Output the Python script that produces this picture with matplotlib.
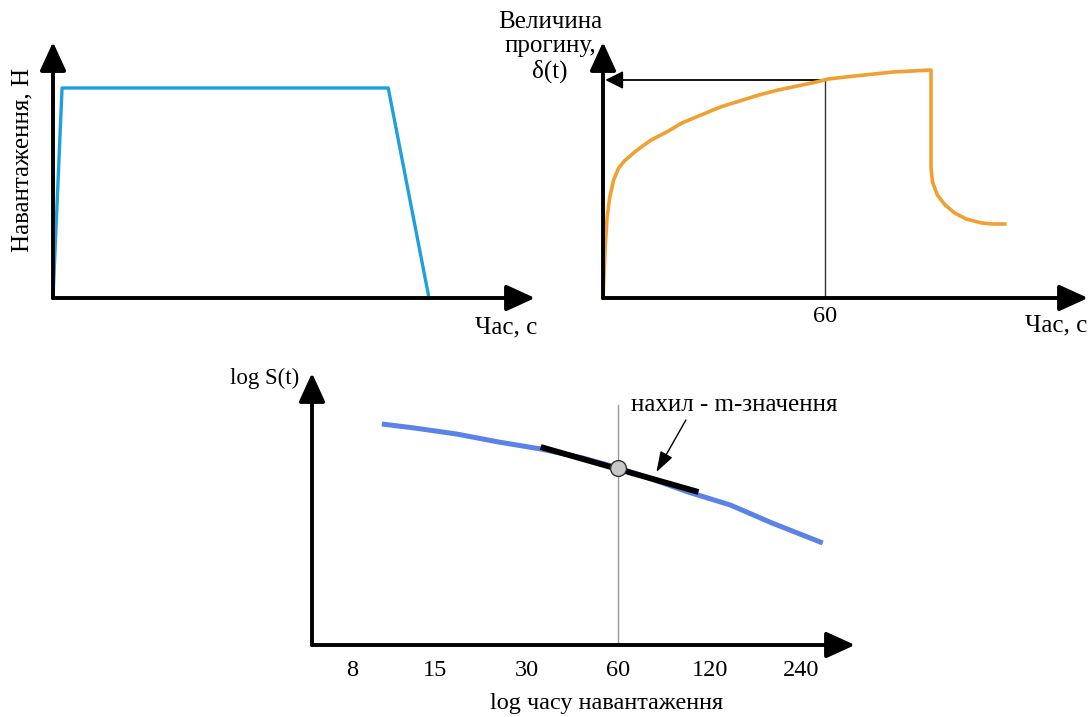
import numpy as np
import matplotlib
matplotlib.use("Agg")
import matplotlib.pyplot as plt

plt.rcParams["font.family"] = ["Liberation Serif", "DejaVu Serif"]

W, H = 1092, 717

# --- panel 1: load history ---
load_t = [0, 2, 74, 83]
load_val = [0, 1.0, 1.0, 0]

# --- panel 2: deflection vs time ---
defl_t = [0, 0.38, 0.59, 1.11, 1.84, 2.86, 4.22, 5.78, 8.89, 13.0, 17.2,
          21.3, 26.5, 31.7, 36.9, 42.1, 47.3, 52.5, 57.6, 60.8, 68.0, 73.2,
          78.4, 83.6, 88.6,
          88.6, 89.0, 90.3, 92.4, 95.0, 98.1, 102.3, 105.4, 108.5]
defl_val = [0, 0.31, 0.51, 0.81, 1.01, 1.18, 1.30, 1.37, 1.47, 1.58, 1.66,
            1.75, 1.83, 1.91, 1.97, 2.03, 2.08, 2.12, 2.16, 2.19, 2.22, 2.24,
            2.26, 2.27, 2.28,
            1.30, 1.16, 1.03, 0.93, 0.85, 0.79, 0.75, 0.74, 0.74]
t_ref = 60
defl_ref = 2.18

# --- panel 3: log S(t) vs log time ---
s_t = [10.0, 12.8, 17.6, 24.2, 33.3, 45.8, 60.1, 73.9, 101.7, 140, 192, 282]
s_val = [2.21, 2.17, 2.11, 2.03, 1.96, 1.87, 1.77, 1.68, 1.53, 1.40, 1.22, 1.02]
tangent_t = [33.3, 110]
tangent_val = [1.98, 1.53]
point_t, point_val = 60, 1.77
tick_vals = [8, 15, 30, 60, 120, 240]
tick_labels = ["8", "15", "30", "60", "120", "240"]

FS = 18
BLUE1 = "#1ea0dc"
ORANGE = "#f0a030"
BLUE2 = "#5b82e6"

fig = plt.figure(figsize=(W / 100, H / 100), dpi=100)


def box(x0, y0, x1, y1):
    # pixel box (left, top, right, bottom) -> axes
    ax = fig.add_axes([x0 / W, 1 - y1 / H, (x1 - x0) / W, (y1 - y0) / H])
    ax.axis("off")
    return ax


def axis_arrows(ax, x0, y0, x1, y1):
    kw = dict(arrowstyle="-|>,head_length=0.7,head_width=0.32",
              mutation_scale=25, color="k", lw=2.8, shrinkA=0, shrinkB=0)
    ax.annotate("", xy=(x1, y0), xytext=(x0, y0), arrowprops=kw,
                annotation_clip=False)
    ax.annotate("", xy=(x0, y1), xytext=(x0, y0), arrowprops=kw,
                annotation_clip=False)


# panel 1
ax1 = box(53, 42, 535, 298)
ax1.set_xlim(0, 106.4)
ax1.set_ylim(0, 1.219)
ax1.plot(load_t, load_val, color=BLUE1, lw=2.4, clip_on=False, zorder=3)
axis_arrows(ax1, 0, 0, 106.4, 1.219)
ax1.text(-6.8, 0.657, "Навантаження, Н", rotation=90, ha="center",
         va="center", fontsize=FS)
ax1.text(100, -0.138, "Час, с", ha="center", va="center", fontsize=FS)

# panel 2
ax2 = box(603, 42, 1088, 298)
ax2.set_xlim(0, 131)
ax2.set_ylim(0, 2.56)
ax2.plot(defl_t, defl_val, color=ORANGE, lw=2.6, clip_on=False, zorder=3,
         solid_joinstyle="round")
ax2.plot([t_ref, t_ref], [0, defl_ref], color="#333333", lw=1.0, zorder=2)
ax2.annotate("", xy=(0.6, defl_ref), xytext=(t_ref, defl_ref),
             arrowprops=dict(arrowstyle="-|>,head_length=0.6,head_width=0.3",
                             mutation_scale=18, color="k", lw=1.3,
                             shrinkA=0, shrinkB=0), zorder=2)
axis_arrows(ax2, 0, 0, 131, 2.56)
ax2.text(t_ref, -0.19, "60", ha="center", va="center", fontsize=17.5)
ax2.text(122.4, -0.27, "Час, с", ha="center", va="center", fontsize=FS)
ax2.text(-14.3, 2.51, "Величина\nпрогину,\nδ(t)", ha="center", va="center",
         fontsize=FS, linespacing=1.12)

# panel 3
ax3 = box(312, 373, 855, 645)
ax3.set_xscale("log")
ax3.set_xlim(5.89, 360)
ax3.set_ylim(0, 2.72)
ax3.plot(s_t, s_val, color=BLUE2, lw=3.6, solid_capstyle="butt", zorder=3)
ax3.plot([t_ref, t_ref], [0, 2.40], color="#999999", lw=1.0, zorder=2)
ax3.plot(tangent_t, tangent_val, color="k", lw=4.2, solid_capstyle="butt",
         zorder=4)
ax3.scatter([point_t], [point_val], s=130, color="#c8c8c8",
            edgecolors="#333333", linewidths=1.0, zorder=5)
ax3.annotate("", xy=(80, 1.73), xytext=(100, 2.25),
             arrowprops=dict(arrowstyle="-|>,head_length=0.9,head_width=0.3",
                             mutation_scale=14, color="k", lw=1.0,
                             shrinkA=0, shrinkB=0), zorder=6)
ax3.text(144, 2.40, "нахил - m-значення", ha="center", va="center",
         fontsize=FS)
axis_arrows(ax3, 5.89, 0, 360, 2.72)
for v, lab in zip(tick_vals, tick_labels):
    ax3.text(v, -0.25, lab, ha="center", va="center", fontsize=17.5)
ax3.text(55, -0.58, "log часу навантаження", ha="center", va="center",
         fontsize=17.5)
ax3.text(4.1, 2.67, "log S(t)", ha="center", va="center", fontsize=16.5)

fig.savefig("out.png", dpi=100)
